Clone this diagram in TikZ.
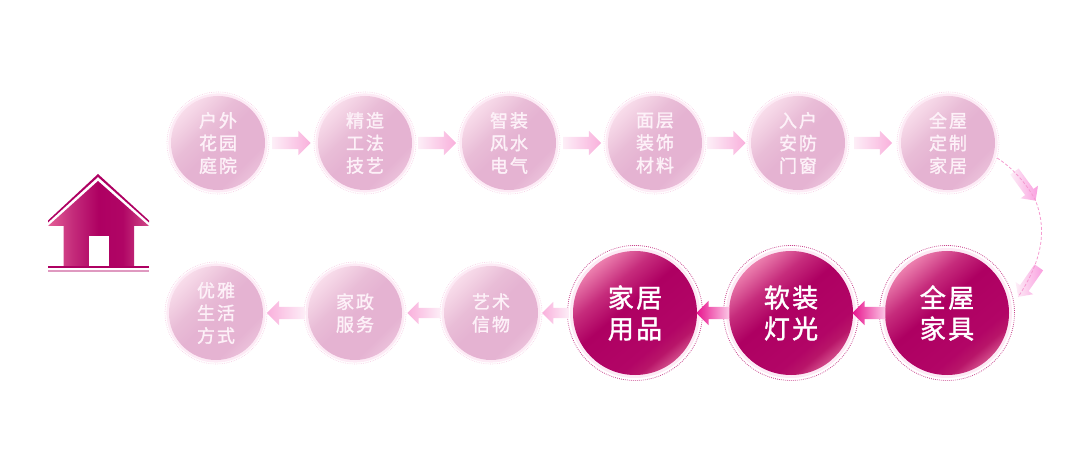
\documentclass[tikz,border=0pt]{standalone}
\usepackage{fontspec}
\usetikzlibrary{shapes.arrows,calc}
\setmainfont{Noto Sans CJK SC}
\newfontfamily\cjksmall[LetterSpace=11,FakeBold=1.5]{Noto Sans CJK SC}
\newfontfamily\cjkbig[LetterSpace=9,FakeBold=1.5]{Noto Sans CJK SC}
\definecolor{mag}{HTML}{AE0062}
\definecolor{ringpale}{HTML}{FDEAF5}
\definecolor{softdot}{HTML}{F6CFE5}
\definecolor{hotdot}{HTML}{C9458E}
\definecolor{softtext}{HTML}{FDF1F8}
\definecolor{tipsoft}{HTML}{F9B0DC}
\definecolor{tailsoft}{HTML}{FDEEF7}
\definecolor{tiphot}{HTML}{E8148E}
\definecolor{tailhot}{HTML}{FBC8E6}
\definecolor{softa}{HTML}{F8DCEA}
\definecolor{softb}{HTML}{E9BDD7}
\definecolor{softc}{HTML}{E5B3D2}
\definecolor{softd}{HTML}{EBC0DA}
\definecolor{hota}{HTML}{EC7FAE}
\definecolor{hotb}{HTML}{C62C7C}
\definecolor{hotc}{HTML}{B20566}
\definecolor{hotd}{HTML}{B81569}
\definecolor{hote}{HTML}{D24C8A}
\definecolor{housea}{HTML}{E45F97}
\definecolor{houseb}{HTML}{C42C7B}
\definecolor{housec}{HTML}{B00565}
\definecolor{housed}{HTML}{D04A88}
\definecolor{linkpink}{HTML}{F59AD0}
\pgfdeclarehorizontalshading{softball}{100bp}{color(0bp)=(softa);color(25bp)=(softa);color(40bp)=(softb);color(50bp)=(softc);color(68bp)=(softc);color(75bp)=(softd);color(100bp)=(softd)}
\pgfdeclarehorizontalshading{hotball}{100bp}{color(0bp)=(hota);color(25bp)=(hota);color(36bp)=(hotb);color(46bp)=(mag);color(65bp)=(hotc);color(70bp)=(hotd);color(75bp)=(hote);color(100bp)=(hote)}
\pgfdeclarehorizontalshading{houseshade}{100bp}{color(0bp)=(housea);color(25bp)=(housea);color(37bp)=(houseb);color(50bp)=(mag);color(62bp)=(housec);color(75bp)=(housed);color(100bp)=(housed)}
\tikzset{
  x=1pt,y=-1pt,
  softlabel/.style={circle,inner sep=0pt,minimum size=102pt,draw=softdot,dash pattern=on .7pt off 1.1pt,line width=.7pt,text=softtext,align=center,font=\fontsize{18}{22.6}\selectfont\cjksmall},
  hotlabel/.style={circle,inner sep=0pt,minimum size=135pt,draw=hotdot,dash pattern=on .8pt off 1.2pt,line width=.8pt,text=white,align=center,font=\fontsize{26}{31}\selectfont\cjkbig},
  softdisc/.style={shading=softball,shading angle=-45},
  hotdisc/.style={shading=hotball,shading angle=-50},
  blockarrow/.style={single arrow,draw=none,inner sep=0pt,outer sep=0pt,single arrow head indent=0pt},
  longsoft/.style={blockarrow,text height=6pt,text depth=6pt,minimum height=38pt,single arrow head extend=6pt},
  shortsoft/.style={blockarrow,text height=5pt,text depth=5pt,minimum height=27pt,single arrow head extend=6pt},
  midsoft/.style={shortsoft,minimum height=33pt},
  righttip/.style={xshift=-3pt,left color=tailsoft,right color=tipsoft},
  lefttip/.style={xshift=3.5pt,shape border rotate=180,left color=tipsoft,right color=tailsoft},
  hotarrow/.style={blockarrow,xshift=3pt,text height=6pt,text depth=6pt,minimum height=33pt,single arrow head extend=6pt,shape border rotate=180,left color=tiphot,right color=tailhot},
  bendarrow/.style={blockarrow,text height=5pt,text depth=5pt,minimum height=36pt,single arrow head extend=5.5pt,left color=tailsoft,right color=tipsoft!90!magenta},
  dashlink/.style={draw=linkpink,dash pattern=on 3pt off 2pt,line width=.8pt},
}
\newcommand{\softnode}[4]{%
  \fill[ringpale] (#2,#3) circle (49.6pt);
  \shade[softdisc] (#2,#3) circle (47pt);
  \node[softlabel] (#1) at (#2,#3) {#4};}
\newcommand{\hotnode}[4]{%
  \fill[ringpale] (#2,#3) circle (65pt);
  \shade[hotdisc] (#2,#3) circle (62pt);
  \node[hotlabel] (#1) at (#2,#3) {#4};}
\begin{document}
\begin{tikzpicture}
\useasboundingbox (0,0) rectangle (1080,473);
% house
\fill[mag] (48,220.5) -- (98,174) -- (149,220.5) -- (149,222.5) -- (98,177) -- (48,222.5) -- cycle;
\shade[shading=houseshade] (98,181) -- (149,226) -- (134,226) -- (134,266) -- (63.5,266) -- (63.5,226) -- (48,226) -- cycle;
\fill[white] (88.5,236) rectangle (109,266);
\fill[mag] (48,266) rectangle (149,267.6);
\fill[mag!40!white] (48,270) rectangle (149,272);
% top row
\softnode{t1}{218}{143}{户外\\花园\\庭院}
\softnode{t2}{365}{143}{精造\\工法\\技艺}
\softnode{t3}{509}{143}{智装\\风水\\电气}
\softnode{t4}{655}{143}{面层\\装饰\\材料}
\softnode{t5}{798}{143}{入户\\安防\\门窗}
\softnode{t6}{948}{143}{全屋\\定制\\家居}
% bottom row
\hotnode{b1}{947}{313}{全屋\\家具}
\hotnode{b2}{791}{313}{软装\\灯光}
\hotnode{b3}{635}{313}{家居\\用品}
\softnode{b4}{491}{313}{艺术\\信物}
\softnode{b5}{355}{313}{家政\\服务}
\softnode{b6}{216}{313}{优雅\\生活\\方式}
% block arrows
\path (t1.east) -- (t2.west) node[midway,longsoft,righttip] (a1) {};
\path (t2.east) -- (t3.west) node[midway,longsoft,righttip] (a2) {};
\path (t3.east) -- (t4.west) node[midway,longsoft,righttip] (a3) {};
\path (t4.east) -- (t5.west) node[midway,longsoft,righttip] (a4) {};
\path (t5.east) -- (t6.west) node[midway,longsoft,righttip] (a5) {};
\path (b1.west) -- (b2.east) node[midway,hotarrow] (a7) {};
\path (b2.west) -- (b3.east) node[midway,hotarrow] (a8) {};
\path (b3.west) -- (b4.east) node[midway,shortsoft,lefttip] (a9) {};
\path (b4.west) -- (b5.east) node[midway,midsoft,lefttip] (a10) {};
\path (b5.west) -- (b6.east) node[midway,longsoft,lefttip] (a11) {};
% curved link
\node[bendarrow,rotate=-54] (d1) at (1023.5,184) {};
\node[bendarrow,rotate=-125] (d2) at (1030,280) {};
\draw[dashlink] (t6.-17) .. controls (1010,166) and (1026,182) .. (d1.tip)
  .. controls (1045,225) and (1046,255) .. (d2.tip);
\end{tikzpicture}
\end{document}
